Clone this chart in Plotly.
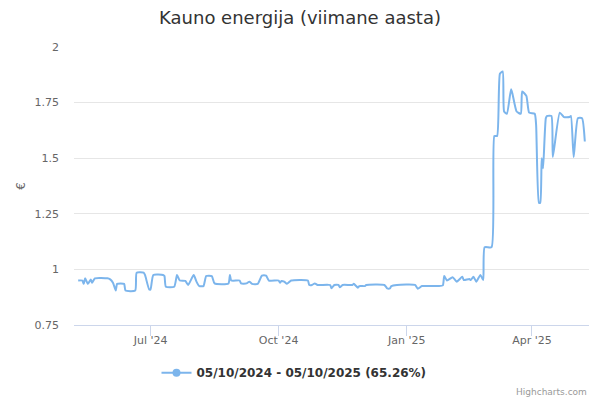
import plotly.graph_objects as go

# daily price readings
dates = [
    '2024-05-10', '2024-05-13', '2024-05-14', '2024-05-15', '2024-05-17', '2024-05-19',
    '2024-05-20', '2024-05-22', '2024-05-31', '2024-06-02', '2024-06-04', '2024-06-06',
    '2024-06-07', '2024-06-12', '2024-06-13', '2024-06-20', '2024-06-21', '2024-06-26',
    '2024-06-27', '2024-06-30', '2024-07-01', '2024-07-03', '2024-07-10', '2024-07-11',
    '2024-07-12', '2024-07-18', '2024-07-20', '2024-07-22', '2024-07-26', '2024-07-28',
    '2024-08-01', '2024-08-03', '2024-08-05', '2024-08-08', '2024-08-10', '2024-08-14',
    '2024-08-16', '2024-08-26', '2024-08-27', '2024-08-28', '2024-09-03', '2024-09-04',
    '2024-09-08', '2024-09-10', '2024-09-12', '2024-09-16', '2024-09-19', '2024-09-22',
    '2024-09-24', '2024-10-01', '2024-10-02', '2024-10-03', '2024-10-05', '2024-10-07',
    '2024-10-10', '2024-10-22', '2024-10-23', '2024-10-25', '2024-10-27', '2024-10-29',
    '2024-11-07', '2024-11-08', '2024-11-10', '2024-11-13', '2024-11-14', '2024-11-16',
    '2024-11-23', '2024-11-24', '2024-11-27', '2024-11-28', '2024-12-02', '2024-12-03',
    '2024-12-16', '2024-12-18', '2024-12-20', '2024-12-21', '2024-12-25', '2025-01-07',
    '2025-01-09', '2025-01-12', '2025-01-24', '2025-01-27', '2025-01-28', '2025-01-30',
    '2025-02-03', '2025-02-06', '2025-02-10', '2025-02-11', '2025-02-15', '2025-02-16',
    '2025-02-18', '2025-02-20', '2025-02-23', '2025-02-25', '2025-02-26', '2025-03-03',
    '2025-03-05', '2025-03-07', '2025-03-09', '2025-03-11', '2025-03-12', '2025-03-14',
    '2025-03-17', '2025-03-18', '2025-03-21', '2025-03-24', '2025-03-25', '2025-03-28',
    '2025-03-30', '2025-04-03', '2025-04-04', '2025-04-06', '2025-04-07', '2025-04-08',
    '2025-04-09', '2025-04-11', '2025-04-12', '2025-04-15', '2025-04-16', '2025-04-21',
    '2025-04-24', '2025-04-28', '2025-04-29', '2025-05-01', '2025-05-04', '2025-05-07',
    '2025-05-09',
]
prices = [
    0.95, 0.95, 0.935, 0.96, 0.935, 0.955,
    0.94, 0.96, 0.96, 0.955, 0.94, 0.905,
    0.935, 0.935, 0.905, 0.905, 0.985, 0.985,
    0.975, 0.91, 0.91, 0.975, 0.975, 0.97,
    0.922, 0.922, 0.975, 0.95, 0.948, 0.93,
    0.975, 0.945, 0.925, 0.925, 0.97, 0.97,
    0.937, 0.937, 0.975, 0.95, 0.95, 0.937,
    0.937, 0.945, 0.935, 0.935, 0.972, 0.972,
    0.95, 0.95, 0.94, 0.948, 0.945, 0.935,
    0.95, 0.95, 0.93, 0.93, 0.937, 0.93,
    0.93, 0.915, 0.93, 0.93, 0.92, 0.93,
    0.93, 0.935, 0.918, 0.925, 0.925, 0.93,
    0.93, 0.915, 0.915, 0.925, 0.93, 0.93,
    0.913, 0.925, 0.925, 0.928, 0.97, 0.95,
    0.965, 0.945, 0.967, 0.952, 0.957, 0.952,
    0.967, 0.945, 0.975, 0.952, 1.10, 1.10,
    1.60, 1.60, 1.88, 1.89, 1.71, 1.70,
    1.81, 1.79, 1.71, 1.70, 1.80, 1.78,
    1.705, 1.70, 1.65, 1.30, 1.30, 1.50,
    1.455, 1.68, 1.69, 1.69, 1.505, 1.705,
    1.685, 1.685, 1.69, 1.505, 1.68, 1.68,
    1.575,
]

tick_dates = ['2024-07-01', '2024-10-01', '2025-01-01', '2025-04-01']
tick_labels = ["Jul '24", "Oct '24", "Jan '25", "Apr '25"]
y_ticks = [0.75, 1, 1.25, 1.5, 1.75, 2]
y_labels = ['0.75', '1', '1.25', '1.5', '1.75', '2']

series_name = '05/10/2024 - 05/10/2025 (65.26%)'
blue = '#7cb5ec'
font = 'DejaVu Sans'

fig = go.Figure()
fig.add_trace(go.Scatter(
    x=dates, y=prices, mode='lines',
    line=dict(color=blue, width=2, shape='spline', smoothing=0.5),
    showlegend=False, hoverinfo='x+y'
))
# legend entry with the Highcharts style line + dot symbol
fig.add_trace(go.Scatter(
    x=[None], y=[None], mode='lines+markers', name=series_name,
    line=dict(color=blue, width=2), marker=dict(color=blue, size=8)
))

fig.update_layout(
    width=600, height=400,
    paper_bgcolor='white', plot_bgcolor='white',
    margin=dict(l=74, r=11, t=47, b=75, autoexpand=False),
    font=dict(family=font, color='#666666', size=11),
    title=dict(text='Kauno energija (viimane aasta)', x=0.5, xanchor='center',
               y=0.955, yanchor='middle', yref='container',
               font=dict(family=font, size=18, color='#333333')),
    legend=dict(orientation='h', x=0.49, xanchor='center', xref='container',
                y=0.068, yanchor='middle', yref='container',
                font=dict(family=font, size=12, color='#333333', weight='bold')),
    xaxis=dict(type='date', range=['2024-05-07', '2025-05-12'],
               tickvals=tick_dates, ticktext=tick_labels, automargin=False,
               showgrid=False, showline=True, linecolor='#ccd6eb', linewidth=1,
               ticks='outside', ticklen=5, tickcolor='#ccd6eb', zeroline=False,
               # longer tick marks without pushing the labels down
               minor=dict(tickmode='array', tickvals=tick_dates, ticks='outside',
                          ticklen=10, tickcolor='#ccd6eb', showgrid=False),
               tickfont=dict(size=11, color='#666666')),
    yaxis=dict(range=[0.75, 2], tickvals=y_ticks, ticktext=y_labels, automargin=False,
               showgrid=True, gridcolor='#e6e6e6', gridwidth=1, zeroline=False,
               showline=False, ticks='', ticklabelstandoff=14,
               title=dict(text='€', standoff=6, font=dict(size=12, color='#666666')),
               tickfont=dict(size=11, color='#666666')),
    annotations=[dict(text='Highcharts.com', xref='paper', yref='paper',
                      x=1.0, xanchor='right', y=-0.241, yanchor='middle',
                      showarrow=False, font=dict(family=font, size=9, color='#999999'))],
)

# the page's default body margin would shift the chart by 8px
fig.write_html("out.html", config={'displayModeBar': False},
               post_script="document.body.style.margin = '0';")
